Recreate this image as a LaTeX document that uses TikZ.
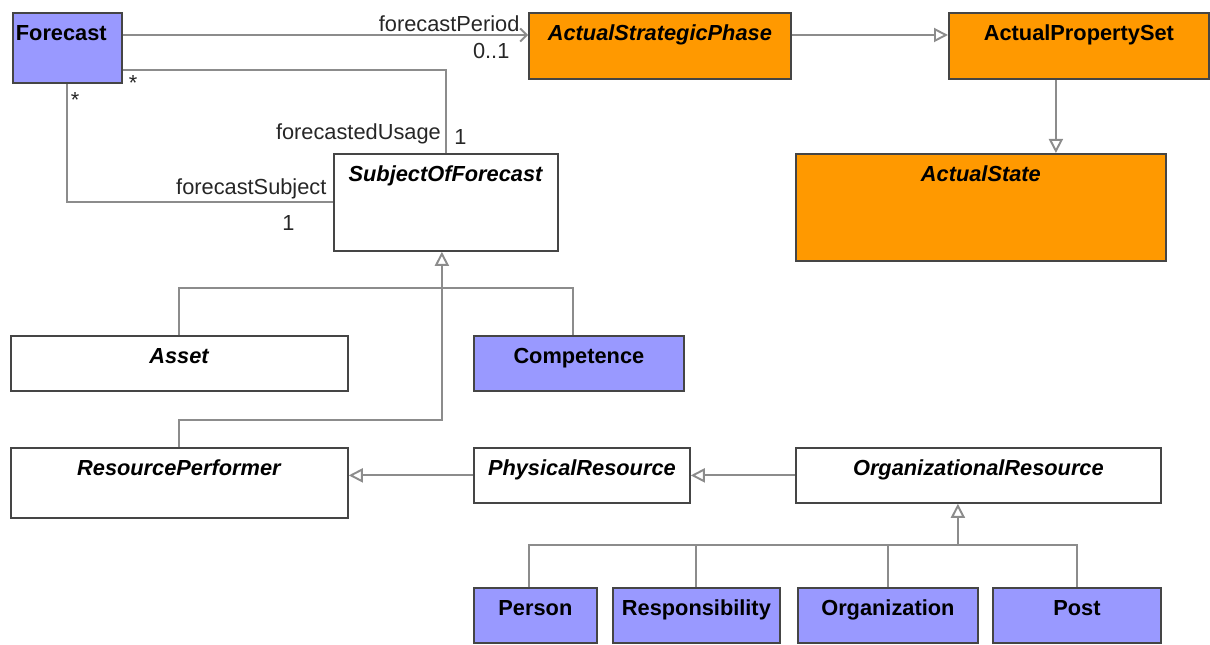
\documentclass[tikz,border=0pt]{standalone}
\usepackage{fontspec}
\setmainfont{Liberation Sans}
\usepackage{tikz}
\usetikzlibrary{arrows.meta, positioning, calc}
\definecolor{umlblue}{HTML}{9999FF}
\definecolor{umlorange}{HTML}{FF9900}
\definecolor{umlframe}{HTML}{454545}
\definecolor{umlline}{HTML}{8C8C8C}

\begin{document}
\begin{tikzpicture}[
    x=0.2mm, y=-0.2mm,
    cls/.style={rectangle, draw=umlframe, line width=1pt, fill=#1, anchor=north west,
                inner sep=0pt, text height=5.6mm, align=center,
                font=\fontsize{12.4}{14}\selectfont\bfseries},
    line/.style={draw=umlline, line width=1.1pt},
    gen/.style={line, -{Triangle[open, length=2.8mm, width=2.8mm]}},
    assoc/.style={line, -{Straight Barb[length=1.3mm, width=2.6mm]}},
    role/.style={font=\fontsize{12.4}{14}\selectfont, text=black!85, inner sep=1.5pt}
]
\useasboundingbox (0,0) rectangle (1210,645);

% classes
\node[cls=umlblue, text width=20.6mm, inner xsep=0.6mm, align=left, text depth=8.4mm] (fc) at (12,12) {Forecast};
\node[cls=umlorange, minimum width=52.4mm, text depth=7.6mm] (asp) at (528,12) {\textit{ActualStrategicPhase}};
\node[cls=umlorange, minimum width=52mm, text depth=7.6mm] (aps) at (948,12) {ActualPropertySet};
\node[cls=umlorange, minimum width=74mm, text depth=15.8mm] (ast) at (795,153) {\textit{ActualState}};
\node[cls=white, minimum width=44.8mm, text depth=13.8mm] (sof) at (333,153) {\textit{SubjectOfForecast}};
\node[cls=white, minimum width=67.4mm, text depth=5.4mm] (asset) at (10,335) {\textit{Asset}};
\node[cls=umlblue, minimum width=42mm, text depth=5.4mm] (comp) at (473,335) {Competence};
\node[cls=white, minimum width=67.4mm, text depth=8.4mm] (rp) at (10,447) {\textit{ResourcePerformer}};
\node[cls=white, minimum width=43.2mm, text depth=5.4mm] (pr) at (473,447) {\textit{PhysicalResource}};
\node[cls=white, minimum width=73mm, text depth=5.4mm] (orgres) at (795,447) {\textit{OrganizationalResource}};
\node[cls=umlblue, minimum width=24.6mm, text depth=5.4mm] (person) at (473,587) {Person};
\node[cls=umlblue, minimum width=33.4mm, text depth=5.4mm] (resp) at (612,587) {Responsibility};
\node[cls=umlblue, minimum width=36mm, text depth=5.4mm] (org) at (797,587) {Organization};
\node[cls=umlblue, minimum width=33.6mm, text depth=5.4mm] (post) at (992,587) {Post};

% associations
\draw[assoc] ([yshift=-4.6mm]fc.north east) -- ([yshift=-4.6mm]asp.north west)
    node[role, pos=1, above left, xshift=-1mm] (lperiod) {forecastPeriod}
    node[role, pos=1, below left, xshift=-3mm, yshift=-1mm] (lperiodm) {0..1};
\draw[line] ([yshift=2.8mm]fc.south east) -| (sof.north)
    node[role, pos=0, below right, xshift=0.5mm, yshift=-0.5mm] (lusagem) {*}
    node[role, pos=1, above left, xshift=-0.3mm, yshift=1mm] (lusage) {forecastedUsage}
    node[role, pos=1, above right, xshift=1mm, yshift=1mm] (lusage1) {1};
\draw[line] (fc.south) |- (sof.west)
    node[role, pos=0, below right, yshift=-1mm] (lsubjm) {*}
    node[role, pos=1, above left, xshift=-0.6mm] (lsubj) {forecastSubject}
    node[role, pos=1, below left, xshift=-7mm, yshift=-2mm] (lsubj1) {1};

% generalizations
\draw[gen] ([yshift=-4.6mm]asp.north east) -- ([yshift=-4.6mm]aps.north west);
\draw[gen] ([xshift=-4.6mm]aps.south) -- ([xshift=-4.6mm]aps.south |- ast.north);

\coordinate (sofbar) at ([xshift=-0.8mm]sof.south |- 0,288);
\draw[line] (asset.north) |- (sofbar) -| ([xshift=-1.2mm]comp.north);
\draw[gen] (rp.north) |- (sofbar |- 0,420) -- (sofbar |- sof.south);

\draw[gen] (pr.west) -- (pr.west -| rp.east);
\draw[gen] (orgres.west) -- (pr.east);

\coordinate (orbar) at ([xshift=-4.1mm]orgres.south |- 0,545);
\draw[line] ([xshift=-1.2mm]person.north) |- (orbar) -| (post.north);
\draw[line] (resp.north) -- (resp.north |- orbar);
\draw[line] (org.north) -- (org.north |- orbar);
\draw[gen] (orbar) -- (orbar |- orgres.south);
\end{tikzpicture}
\end{document}
